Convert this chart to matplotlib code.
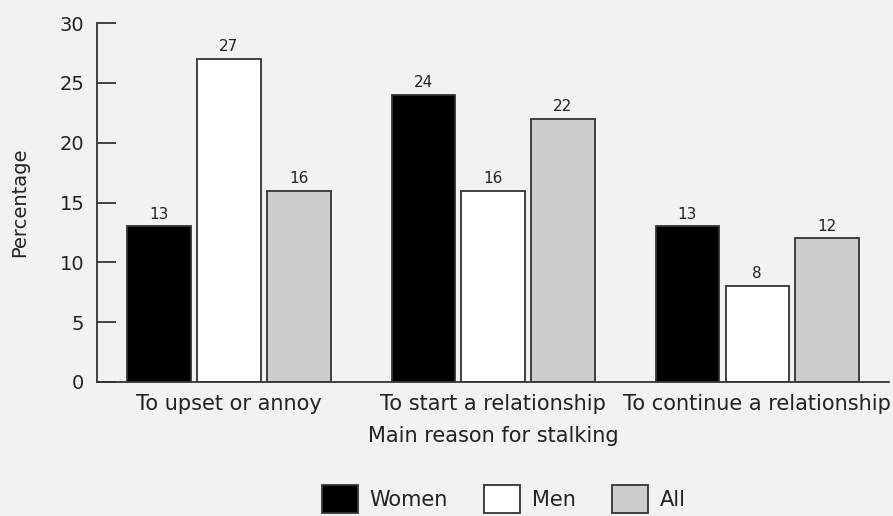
import matplotlib
matplotlib.use("Agg")
import matplotlib.pyplot as plt
import numpy as np
from matplotlib.patches import Patch

# data
reasons = ["To upset or annoy", "To start a relationship", "To continue a relationship"]
series = ["Women", "Men", "All"]
women = [13, 24, 13]
men = [27, 16, 8]
all_people = [16, 22, 12]

colors = ["#000000", "#ffffff", "#cccccc"]
bg = "#f2f2f2"
edge = "#333333"

fig = plt.figure(figsize=(8.93, 5.16), dpi=100, facecolor=bg)
ax = fig.add_axes([0.1086, 0.2597, 0.887, 0.6957], facecolor=bg)

x = np.arange(len(reasons))
width = 0.239
step = 0.265
for i, (vals, c) in enumerate(zip([women, men, all_people], colors)):
    bars = ax.bar(x + (i - 1) * step, vals, width, color=c, edgecolor=edge, linewidth=1.3)
    for b, v in zip(bars, vals):
        ax.annotate(str(v), (b.get_x() + b.get_width() / 2, v), xytext=(0, 3.5),
                    textcoords="offset points", ha="center", va="bottom",
                    fontsize=11, color="#222222")

ax.set_xlim(-0.5, 2.5)
ax.set_ylim(0, 30)
ax.set_yticks(range(0, 31, 5))
ax.tick_params(axis="y", direction="in", length=14, width=1.3, color=edge,
               labelsize=14, pad=9, labelcolor="#222222")
ax.set_xticks(x)
ax.set_xticklabels(reasons, fontsize=15, color="#222222")
ax.tick_params(axis="x", length=0, pad=9)

for s in ["top", "right"]:
    ax.spines[s].set_visible(False)
for s in ["left", "bottom"]:
    ax.spines[s].set_color(edge)
    ax.spines[s].set_linewidth(1.3)

ax.set_ylabel("Percentage", fontsize=14, color="#222222", labelpad=22)
ax.set_xlabel("Main reason for stalking", fontsize=15, color="#222222", labelpad=8)

handles = [Patch(facecolor=c, edgecolor=edge, linewidth=1.3, label=s)
           for c, s in zip(colors, series)]
fig.legend(handles=handles, loc="lower center", bbox_to_anchor=(0.564, -0.03),
           ncol=3, frameon=False, fontsize=15, handlelength=1.73, handleheight=1.65,
           handletextpad=0.55, columnspacing=1.75, labelcolor="#222222")

fig.savefig("out.png", dpi=100, facecolor=bg)
